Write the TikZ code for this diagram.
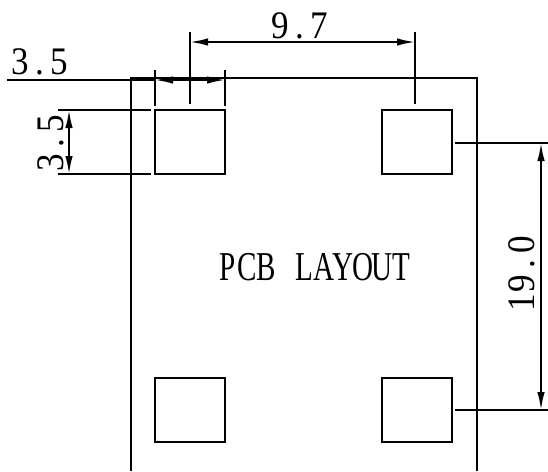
\documentclass[tikz,border=0pt]{standalone}
\usepackage{graphicx}
\usepackage{fontspec}
\setmainfont{Liberation Serif}
\usetikzlibrary{arrows.meta}
\newcommand{\cd}[1]{\makebox[19.3pt]{\scalebox{.9}[1]{#1}}}
\newcommand{\cl}[1]{\makebox[19.3pt]{\scalebox{.71}[1]{#1}}}
\tikzset{
  ln/.style={line width=1.9pt,black},
  pad/.style={draw,line width=1.9pt,minimum width=70pt,minimum height=64pt,inner sep=0pt,outer sep=0pt},
  dimarrow/.style={line width=1.9pt,{Latex[length=18pt,width=7.5pt]}-{Latex[length=18pt,width=7.5pt]}},
  lbl/.style={inner sep=0pt,font=\fontsize{39pt}{39pt}\selectfont,text height=26pt,text depth=0pt}
}
\begin{document}
\begin{tikzpicture}[x=1pt,y=-1pt]
\useasboundingbox (0,0) rectangle (548,471);
% board
\coordinate (bl) at (131,471);
\coordinate (btl) at (131,78);
\coordinate (btr) at (477,78);
\coordinate (br) at (477,471);
\draw[ln] (bl) -- (btl) -- (btr) -- (br);
% pads
\node[pad] (p1) at (190,142) {};
\node[pad] (p2) at (417,142) {};
\node[pad] (p3) at (190,410) {};
\node[pad] (p4) at (417,410) {};
% extension lines
\coordinate (a1) at (155,70);  \coordinate (a2) at (155,106);
\coordinate (b1) at (225,70);  \coordinate (b2) at (225,106);
\coordinate (c1) at (190,32); \coordinate (c2) at (190,104);
\coordinate (d1) at (415,32);  \coordinate (d2) at (415,104);
\draw[ln] (a1) -- (a2);
\draw[ln] (b1) -- (b2);
\draw[ln] (c1) -- (c2);
\draw[ln] (d1) -- (d2);
\coordinate (e1) at (58,110); \coordinate (e2) at (151,110);
\coordinate (f1) at (58,174);   \coordinate (f2) at (151,174);
\draw[ln] (e1) -- (e2);
\draw[ln] (f1) -- (f2);
\coordinate (g1) at (455,143); \coordinate (g2) at (548,143);
\coordinate (h1) at (455,410); \coordinate (h2) at (548,410);
\draw[ln] (g1) -- (g2);
\draw[ln] (h1) -- (h2);
% dimensions
\coordinate (t1) at (190,42); \coordinate (t2) at (415,42);
\draw[dimarrow] (t1) -- (t2);
\coordinate (s0) at (7,80); \coordinate (s1) at (155,80); \coordinate (s2) at (225,80);
\draw[ln] (s0) -- (s1);
\draw[dimarrow] (s1) -- (s2);
\coordinate (v1) at (69,110); \coordinate (v2) at (69,174);
\draw[dimarrow] (v1) -- (v2);
\coordinate (w1) at (541,143); \coordinate (w2) at (541,410);
\draw[dimarrow] (w1) -- (w2);
% labels
\node[lbl] (l97) at (300,25) {\cd{9}\cd{.}\cd{7}};
\node[lbl] (l35a) at (39.5,61) {\cd{3}\cd{.}\cd{5}};
\node[lbl,rotate=90] (l35b) at (50,143) {\cd{3}\cd{.}\cd{5}};
\node[lbl,rotate=90] (l190) at (521.5,274) {\cd{1}\cd{9}\cd{.}\cd{0}};
\node[lbl,font=\fontsize{41pt}{41pt}\selectfont,text height=27pt] (pcb) at (314.5,267) {\cl{P}\cl{C}\cl{B}\cl{\ }\cl{L}\cl{A}\cl{Y}\cl{O}\cl{U}\cl{T}};
\end{tikzpicture}
\end{document}
